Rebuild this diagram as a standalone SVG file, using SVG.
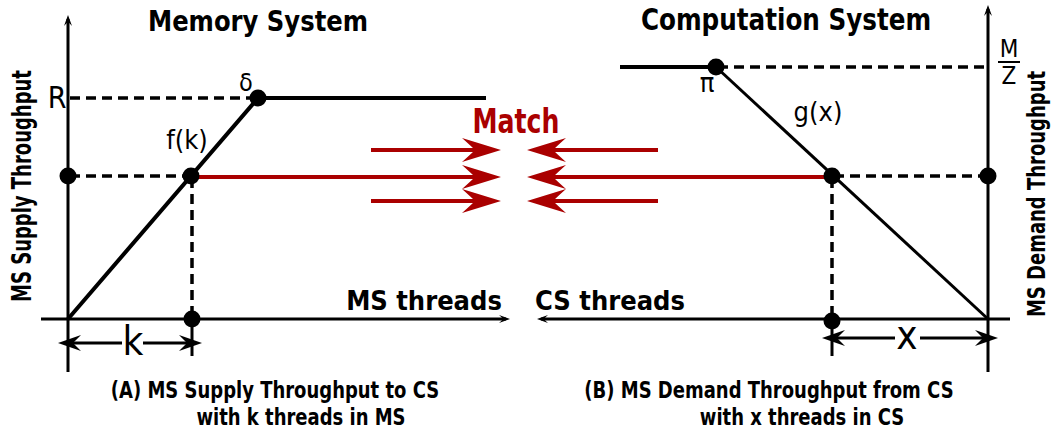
<svg xmlns="http://www.w3.org/2000/svg" width="1051" height="438" viewBox="0 0 1051 438">
<style>
.bold{font-family:"DejaVu Sans Condensed","DejaVu Sans",sans-serif;font-stretch:condensed;font-weight:bold;fill:#000}
.reg{font-family:"DejaVu Sans Condensed","DejaVu Sans",sans-serif;font-stretch:condensed;fill:#000}
.ln{stroke:#000;stroke-width:4;fill:none}
.ax{stroke:#000;stroke-width:3;fill:none}
.dash{stroke:#000;stroke-width:3.5;stroke-dasharray:10,6;fill:none}
.red{stroke:#aa0000;stroke-width:4;fill:none}
.dot{fill:#000}
</style>
<defs>
<marker id="redHead" viewBox="-40 -13 42 26" refX="-24" refY="0" markerWidth="42" markerHeight="26" markerUnits="userSpaceOnUse" orient="auto">
<path d="M0,0 L-39,-12 Q-30,-4 -26,0 Q-30,4 -39,12 Z" fill="#aa0000"/>
</marker>
<marker id="blkHead" viewBox="-25 -10 27 20" refX="-12" refY="0" markerWidth="27" markerHeight="20" markerUnits="userSpaceOnUse" orient="auto-start-reverse">
<path d="M0,0 L-23,-8 Q-18,-3 -15,0 Q-18,3 -23,8 Z" fill="#000"/>
</marker>
<marker id="axHead" viewBox="-12 -6 14 12" refX="-4" refY="0" markerWidth="14" markerHeight="12" markerUnits="userSpaceOnUse" orient="auto">
<path d="M0,0 L-11,-4 Q-8,-1.5 -7,0 Q-8,1.5 -11,4 Z" fill="#000"/>
</marker>
</defs>

<g id="connectors">
<line class="ax" x1="68" y1="372" x2="68" y2="19" marker-end="url(#axHead)"/>
<line class="ax" x1="41" y1="319" x2="506" y2="319" marker-end="url(#axHead)"/>
<polyline class="ln" points="68,319 258,98 486,98"/>
<line class="dash" x1="70" y1="98" x2="256" y2="98"/>
<line class="dash" x1="70" y1="176" x2="190" y2="176"/>
<line class="dash" x1="192" y1="178" x2="192" y2="318"/>
<line class="ax" x1="192" y1="319" x2="192" y2="356"/>
<line class="ax" x1="70" y1="343" x2="122" y2="343" marker-start="url(#blkHead)"/>
<line class="ax" x1="143" y1="343" x2="190" y2="343" marker-end="url(#blkHead)"/>

<line class="ax" x1="988" y1="372" x2="988" y2="9" marker-end="url(#axHead)"/>
<line class="ax" x1="1010" y1="319" x2="541" y2="319" marker-end="url(#axHead)"/>
<line class="ax" x1="716" y1="67" x2="988" y2="319"/>
<line class="ln" x1="620" y1="67" x2="716" y2="67"/>
<line class="dash" x1="718" y1="67" x2="986" y2="67"/>
<line class="dash" x1="834" y1="176" x2="986" y2="176"/>
<line class="dash" x1="832" y1="178" x2="832" y2="318"/>
<line class="ax" x1="832" y1="319" x2="832" y2="356"/>
<line class="ax" x1="834" y1="338" x2="895" y2="338" marker-start="url(#blkHead)"/>
<line class="ax" x1="920" y1="338" x2="986" y2="338" marker-end="url(#blkHead)"/>

<line class="red" x1="371" y1="150" x2="477" y2="150" marker-end="url(#redHead)"/>
<line class="red" x1="191" y1="177" x2="477" y2="177" marker-end="url(#redHead)"/>
<line class="red" x1="371" y1="201" x2="477" y2="201" marker-end="url(#redHead)"/>
<line class="red" x1="658" y1="150" x2="551" y2="150" marker-end="url(#redHead)"/>
<line class="red" x1="832" y1="177" x2="551" y2="177" marker-end="url(#redHead)"/>
<line class="red" x1="658" y1="201" x2="551" y2="201" marker-end="url(#redHead)"/>
</g>

<g id="points">
<circle class="dot" cx="258" cy="98" r="8.5"/>
<circle class="dot" cx="191" cy="176" r="8.5"/>
<circle class="dot" cx="68" cy="176" r="8.5"/>
<circle class="dot" cx="192" cy="319" r="8.5"/>
<circle class="dot" cx="716" cy="67" r="8.5"/>
<circle class="dot" cx="832" cy="176" r="8.5"/>
<circle class="dot" cx="988" cy="176" r="8.5"/>
<circle class="dot" cx="832" cy="321" r="8.5"/>
</g>

<g id="memory-system">
<text class="bold" transform="translate(258,31) scale(1,1.08)" font-size="27" text-anchor="middle">Memory System</text>
<text class="bold" x="424" y="310" font-size="27" text-anchor="middle">MS threads</text>
<text class="bold" transform="translate(31,186) rotate(-90) scale(1,1.35)" font-size="20" text-anchor="middle">MS Supply Throughput</text>
<text class="reg" x="57" y="108" font-size="30" text-anchor="middle">R</text>
<text class="reg" x="246" y="91" font-size="25" text-anchor="middle">δ</text>
<text class="reg" x="187" y="149" font-size="27" text-anchor="middle">f(k)</text>
<text class="reg" x="133" y="355" font-size="40" text-anchor="middle">k</text>
<text class="bold" transform="translate(275,398) scale(1,1.17)" font-size="20" text-anchor="middle">(A) MS Supply Throughput to CS</text>
<text class="bold" transform="translate(301,425) scale(1,1.17)" font-size="20" text-anchor="middle">with k threads in MS</text>
</g>

<g id="computation-system">
<text class="bold" transform="translate(786,30) scale(1,1.08)" font-size="27.4" text-anchor="middle">Computation System</text>
<text class="bold" x="610" y="310" font-size="27" text-anchor="middle">CS threads</text>
<text class="bold" transform="translate(1045,194) rotate(-90) scale(1,1.2)" font-size="20" text-anchor="middle">MS Demand Throughput</text>
<text class="reg" x="1009" y="57" font-size="24" text-anchor="middle">M</text>
<line x1="998" y1="62" x2="1020" y2="62" stroke="#000" stroke-width="2"/>
<text class="reg" x="1009" y="84" font-size="24" text-anchor="middle">Z</text>
<text class="reg" x="707" y="92" font-size="27" text-anchor="middle">π</text>
<text class="reg" x="818" y="121" font-size="27" text-anchor="middle">g(x)</text>
<text class="reg" x="907" y="349" font-size="40" text-anchor="middle">x</text>
<text class="bold" transform="translate(769,398) scale(1,1.17)" font-size="20" text-anchor="middle">(B) MS Demand Throughput from CS</text>
<text class="bold" transform="translate(802,425) scale(1,1.17)" font-size="20" text-anchor="middle">with x threads in CS</text>
</g>

<g id="match">
<text transform="translate(516,133) scale(1,1.22)" font-family="DejaVu Sans Condensed, DejaVu Sans, sans-serif" font-stretch="condensed" font-weight="bold" font-size="28" fill="#aa0000" text-anchor="middle">Match</text>
</g>
</svg>
